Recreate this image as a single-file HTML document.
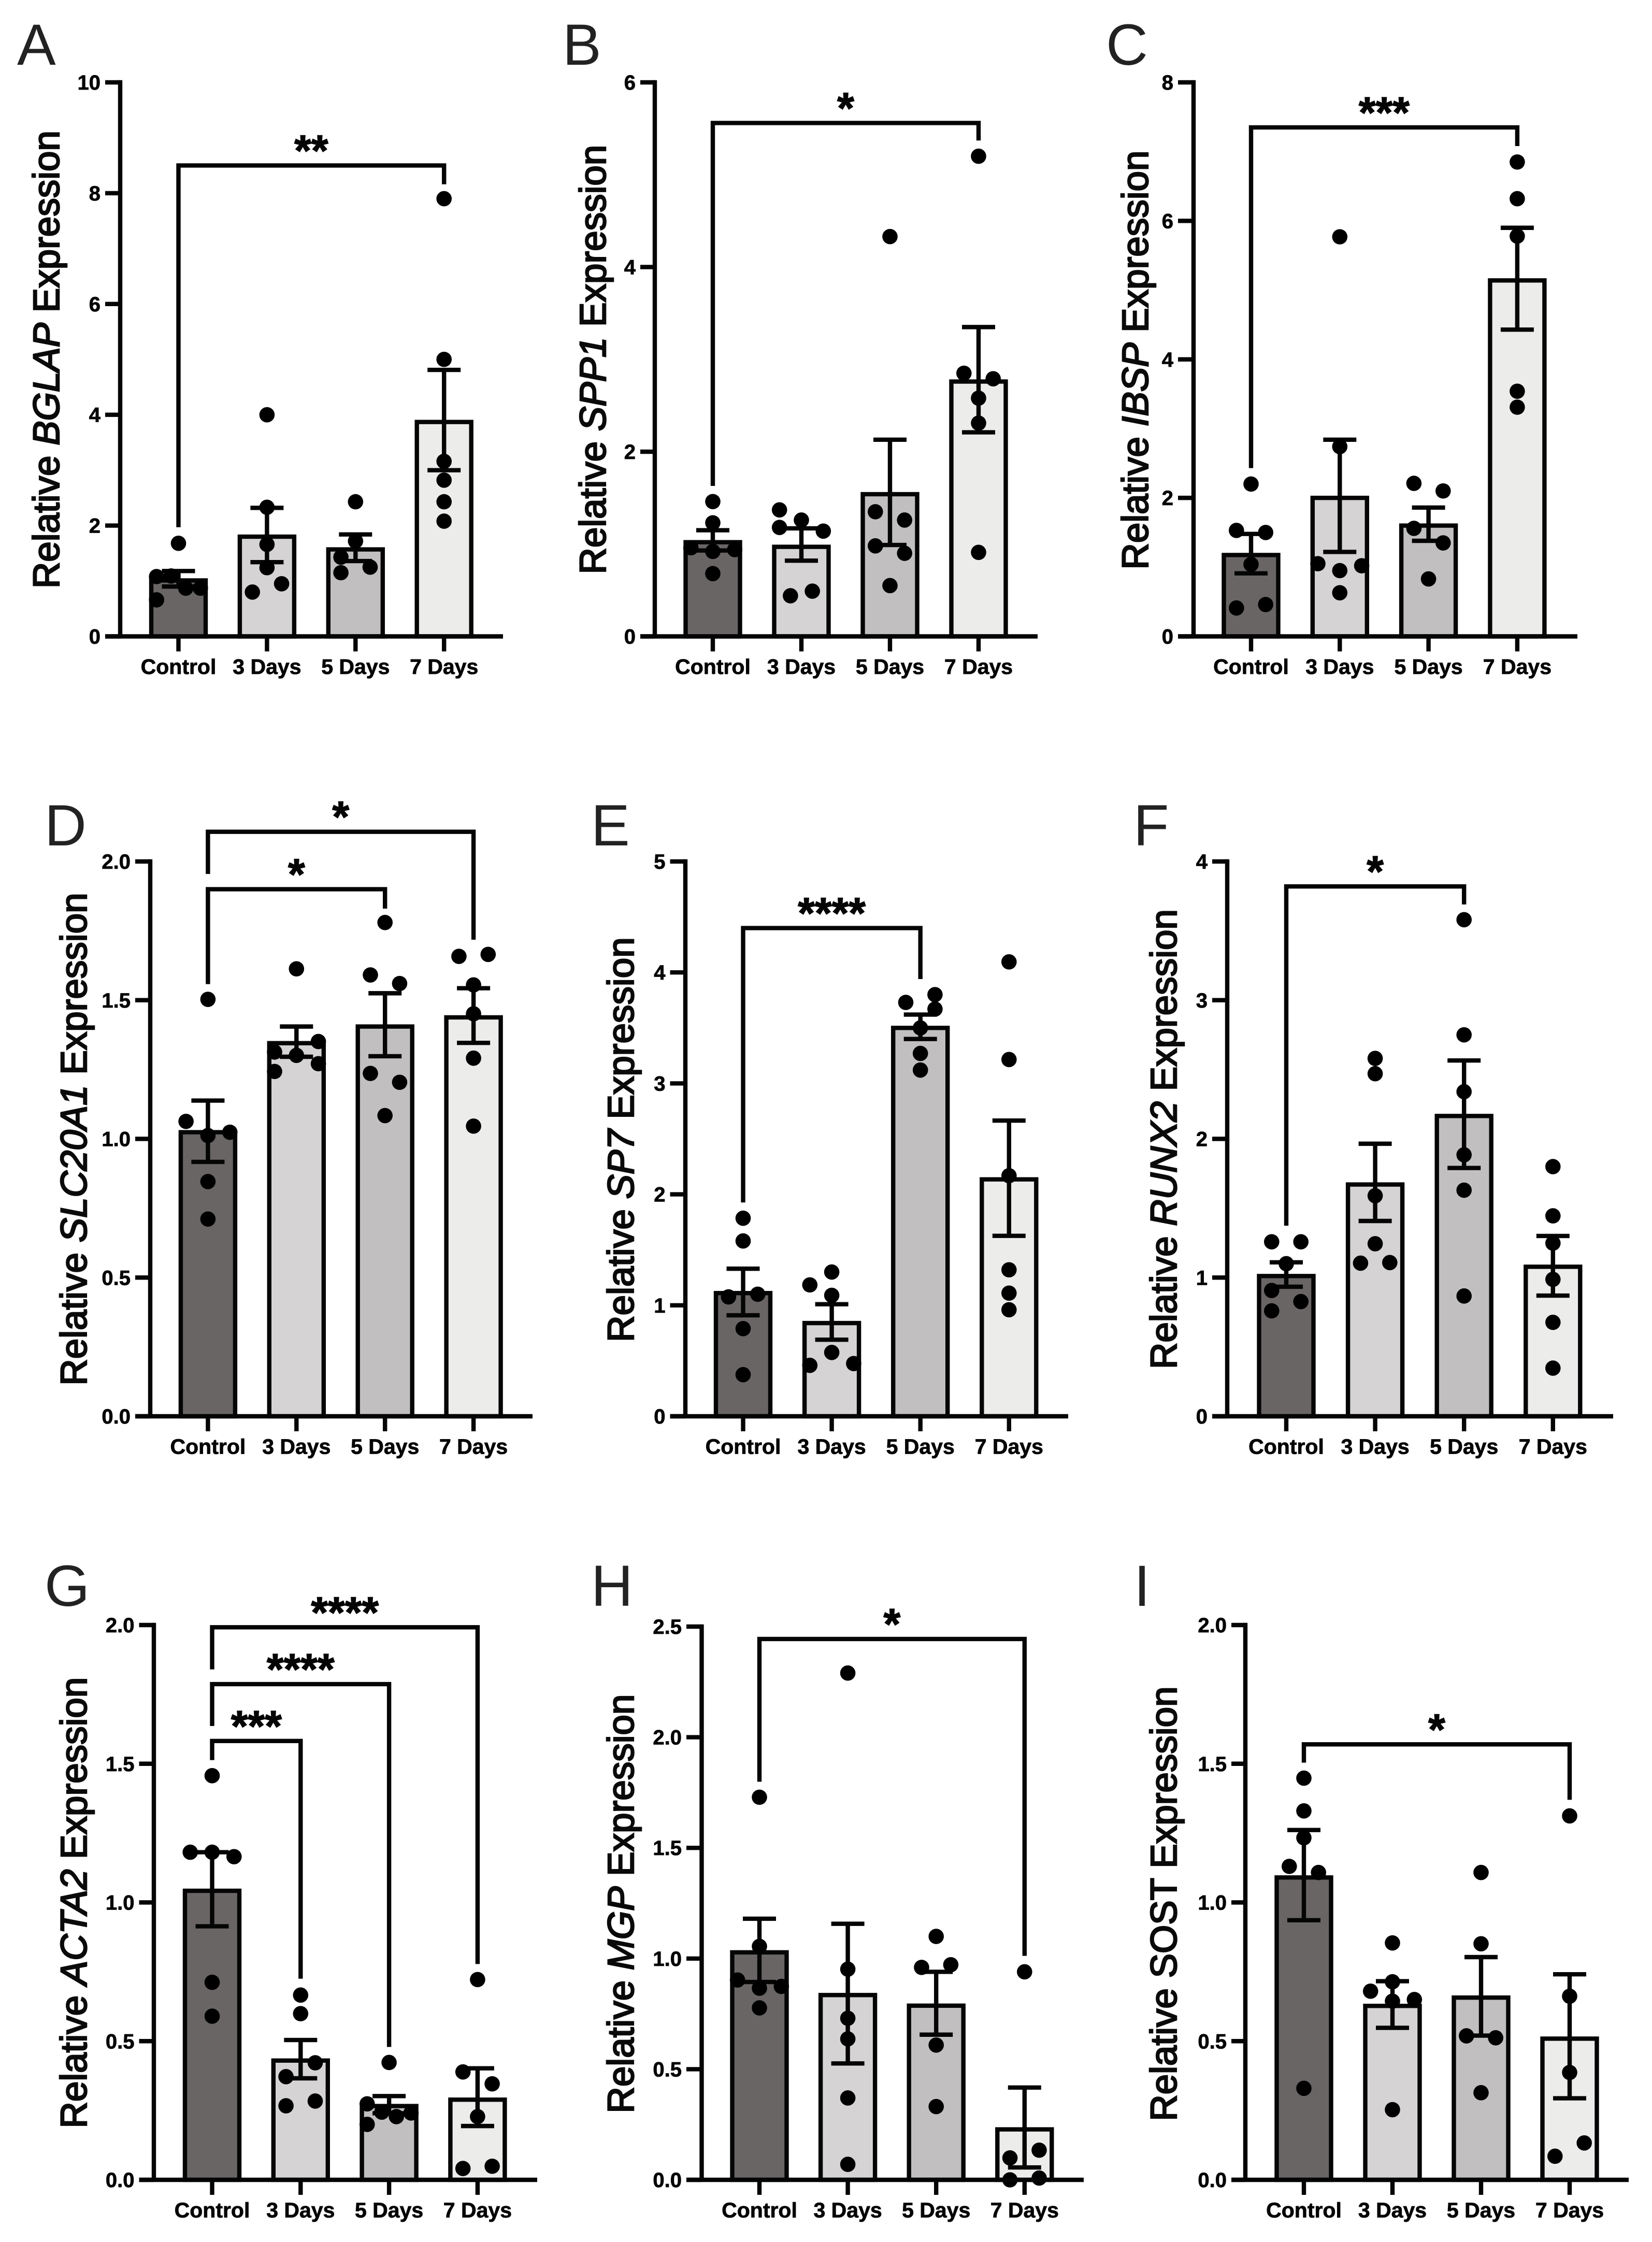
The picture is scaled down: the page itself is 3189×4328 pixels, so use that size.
<!DOCTYPE html>
<html lang="en">
<head>
<meta charset="utf-8">
<title>Relative gene expression panels</title>
<style>
html,body{margin:0;padding:0;background:#fff;}
svg{display:block;font-family:"Liberation Sans",Arial,sans-serif;}
</style>
</head>
<body>
<svg id="figure" xmlns="http://www.w3.org/2000/svg" width="3189" height="4328" viewBox="0 0 3189 4328"></svg>
<script>
const categories = ['Control', '3 Days', '5 Days', '7 Days'];

// Panel A
const aTicks = ['0', '2', '4', '6', '8', '10'];
const aMeans = [1.01, 1.80, 1.57, 3.87];
const aErrHigh = [1.18, 2.32, 1.84, 4.81];
const aErrLow = [0.90, 1.34, 1.36, 3.00];
const aPoints = [[1.68, 1.09, 1.08, 0.87, 0.87, 0.66], [4.0, 2.33, 1.66, 1.24, 0.95, 0.80], [2.43, 1.72, 1.43, 1.25, 1.15], [7.9, 5.0, 3.16, 2.82, 2.43, 2.08]];
const aSlots = [[0, -1, -3, 1, 3, -3], [0, 0, 0, 0, 2, -2], [0, 0, -2, 2, -2], [0, 0, 0, 0, 0, 0]];
const aBrackets = [{from: 0, to: 3, level: 8.5, leftEnd: 1.97, rightEnd: 8.16, stars: '**'}];

// Panel B
const bTicks = ['0', '2', '4', '6'];
const bMeans = [1.02, 0.97, 1.54, 2.76];
const bErrHigh = [1.15, 1.17, 2.13, 3.35];
const bErrLow = [0.93, 0.82, 0.99, 2.21];
const bPoints = [[1.46, 1.23, 0.96, 0.92, 0.94, 0.68], [1.37, 1.18, 1.26, 1.14, 0.49, 0.44], [4.33, 1.35, 1.26, 0.98, 0.90, 0.55], [5.2, 2.85, 2.79, 2.58, 2.31, 0.91]];
const bSlots = [[0, 0, -3, 0, 3, 0], [-3, -3, 0, 3, 1.5, -1.5], [0, -2, 2, -2, 2, 0], [0, -2, 2, 0, 0, 0]];
const bBrackets = [{from: 0, to: 3, level: 5.56, leftEnd: 1.63, rightEnd: 5.37, stars: '*'}];

// Panel C
const cTicks = ['0', '2', '4', '6', '8'];
const cMeans = [1.175, 2.0, 1.60, 5.14];
const cErrHigh = [1.48, 2.84, 1.86, 5.90];
const cErrLow = [0.91, 1.22, 1.38, 4.43];
const cPoints = [[2.2, 1.53, 1.5, 1.04, 0.46, 0.41], [5.77, 2.74, 1.05, 1.02, 0.95, 0.63], [2.21, 2.10, 1.56, 1.35, 0.83], [6.85, 6.32, 5.78, 3.54, 3.31]];
const cSlots = [[0, -2, 2, 0, 2, -2], [0, 0, -3, 3, 0, 0], [-2, 2, -2, 2, 0], [0, 0, 0, 0, 0]];
const cBrackets = [{from: 0, to: 3, level: 7.35, leftEnd: 2.43, rightEnd: 7.08, stars: '***'}];

// Panel D
const dTicks = ['0.0', '0.5', '1.0', '1.5', '2.0'];
const dMeans = [1.024, 1.345, 1.405, 1.438];
const dErrHigh = [1.138, 1.405, 1.525, 1.543];
const dErrLow = [0.917, 1.296, 1.298, 1.346];
const dPoints = [[1.503, 1.063, 1.024, 1.012, 0.846, 0.711], [1.613, 1.351, 1.313, 1.301, 1.271, 1.243], [1.78, 1.591, 1.56, 1.236, 1.204, 1.084], [1.658, 1.665, 1.555, 1.451, 1.291, 1.046]];
const dSlots = [[0, -3, 3, 0, 0, 0], [0, 3, -3, 0, 3, -3], [0, -2, 2, -2, 2, 0], [-2, 2, 0, 0, 0, 0]];
const dBrackets = [
  {from: 0, to: 3, level: 2.107, leftEnd: 1.955, rightEnd: 1.718, stars: '*'},
  {from: 0, to: 2, level: 1.90, leftEnd: 1.558, rightEnd: 1.83, stars: '*'}
];

// Panel E
const eTicks = ['0', '1', '2', '3', '4', '5'];
const eMeans = [1.11, 0.84, 3.50, 2.135];
const eErrHigh = [1.33, 1.01, 3.62, 2.665];
const eErrLow = [0.91, 0.69, 3.40, 1.626];
const ePoints = [[1.785, 1.58, 1.076, 1.10, 0.79, 0.375], [1.30, 1.184, 1.09, 0.575, 0.459, 0.475], [3.80, 3.73, 3.67, 3.50, 3.27, 3.12], [4.095, 3.215, 2.168, 1.32, 1.11, 0.96]];
const eSlots = [[0, 0, -2, 2, 0, 0], [0, -3, 0, 0, -3, 3], [2, -2, 2, 0, 0, 0], [0, 0, 0, 0, 0, 0]];
const eBrackets = [{from: 0, to: 2, level: 4.40, leftEnd: 1.927, rightEnd: 3.94, stars: '****'}];

// Panel F
const fTicks = ['0', '1', '2', '3', '4'];
const fMeans = [1.011, 1.671, 2.165, 1.078];
const fErrHigh = [1.11, 1.965, 2.565, 1.30];
const fErrLow = [0.934, 1.408, 1.79, 0.87];
const fPoints = [[1.258, 1.258, 1.10, 0.907, 0.827, 0.76], [2.58, 2.47, 1.59, 1.244, 1.104, 1.108], [3.58, 2.75, 2.34, 1.885, 1.63, 0.867], [1.80, 1.445, 1.248, 0.987, 0.677, 0.347]];
const fSlots = [[-2, 2, 0, -2, 2, -2], [0, 0, 0, 0, -2, 2], [0, 0, 0, 0, 0, 0], [0, 0, 0, 0, 0, 0]];
const fBrackets = [{from: 0, to: 2, level: 3.82, leftEnd: 1.374, rightEnd: 3.69, stars: '*'}];

// Panel G
const gTicks = ['0.0', '0.5', '1.0', '1.5', '2.0'];
const gMeans = [1.042, 0.43, 0.266, 0.289];
const gErrHigh = [1.181, 0.504, 0.302, 0.402];
const gErrLow = [0.914, 0.366, 0.24, 0.194];
const gPoints = [[1.457, 1.181, 1.181, 1.165, 0.712, 0.59], [0.666, 0.599, 0.422, 0.372, 0.284, 0.267], [0.423, 0.274, 0.244, 0.228, 0.241, 0.20], [0.722, 0.389, 0.346, 0.228, 0.049, 0.041]];
const gSlots = [[0, -3, 0, 3, 0, 0], [0, 0, 2, -2, 2, -2], [0, -3, -1, 1, 3, -3], [0, -2, 2, 0, 2, -2]];
const gBrackets = [
  {from: 0, to: 3, level: 1.992, leftEnd: 1.84, rightEnd: 0.778, stars: '****'},
  {from: 0, to: 2, level: 1.787, leftEnd: 1.636, rightEnd: 0.479, stars: '****'},
  {from: 0, to: 1, level: 1.582, leftEnd: 1.513, rightEnd: 0.725, stars: '***'}
];

// Panel H
const hTicks = ['0.0', '0.5', '1.0', '1.5', '2.0', '2.5'];
const hMeans = [1.028, 0.835, 0.787, 0.228];
const hErrHigh = [1.18, 1.157, 0.94, 0.417];
const hErrLow = [0.894, 0.526, 0.656, 0.056];
const hPoints = [[1.729, 1.055, 0.903, 0.866, 0.874, 0.777], [2.29, 0.952, 0.73, 0.637, 0.37, 0.07], [1.10, 0.96, 0.972, 0.609, 0.331], [0.94, 0.134, 0.099, 0.008, 0]];
const hSlots = [[0, 0, -3, 0, 3, 0], [0, 0, 0, 0, 0, 0], [0, -2, 2, 0, 0], [0, 2, -2, 2, -2]];
const hBrackets = [{from: 0, to: 3, level: 2.444, leftEnd: 1.799, rightEnd: 1.012, stars: '*'}];

// Panel I
const iTicks = ['0.0', '0.5', '1.0', '1.5', '2.0'];
const iMeans = [1.09, 0.627, 0.657, 0.509];
const iErrHigh = [1.261, 0.716, 0.803, 0.741];
const iErrLow = [0.936, 0.548, 0.52, 0.294];
const iPoints = [[1.448, 1.33, 1.233, 1.13, 1.108, 0.33], [0.854, 0.714, 0.68, 0.644, 0.65, 0.253], [1.108, 0.851, 0.519, 0.512, 0.314], [1.312, 0.662, 0.387, 0.133, 0.085]];
const iSlots = [[0, 0, 0, -2, 2, 0], [0, 0, -3, 0, 3, 0], [0, 0, -2, 2, 0], [0, 0, 0, 2, -2]];
const iBrackets = [{from: 0, to: 3, level: 1.57, leftEnd: 1.504, rightEnd: 1.37, stars: '*'}];

const barFills = ['#696565', '#d5d3d4', '#c1bfc0', '#ecedeb'];
const INK = '#050505';
const STROKE = 8.4;
const SVGNS = 'http://www.w3.org/2000/svg';
const figure = document.getElementById('figure');

function make(parent, tag, props, text) {
  const node = document.createElementNS(SVGNS, tag);
  for (const key in props) node.setAttribute(key, props[key]);
  if (text !== undefined) node.textContent = text;
  parent.appendChild(node);
  return node;
}

function drawPanel(p) {
  const group = make(figure, 'g', {});
  
  

  const yMax = parseFloat(p.ticks[p.ticks.length - 1]);
  const yScale = v => p.y0 + (p.yTop - p.y0) * (v / yMax);
  const xScale = i => p.x0 + i * p.step;

  const letter = make(group, 'text', {x: p.letterX, y: p.letterY, 'font-size': 112, fill: '#222'}, p.letter);
  
  

  const title = make(group, 'text', {
    transform: 'translate(' + p.titleX + ',' + p.titleY + ') rotate(-90)',
    'text-anchor': 'middle', 'font-size': 71, fill: '#0a0a0a', stroke: '#0a0a0a', 'stroke-width': 2.6
  });
  
  
  make(title, 'tspan', {}, 'Relative ');
  make(title, 'tspan', {'font-style': p.italic ? 'italic' : 'normal'}, p.gene);
  make(title, 'tspan', {}, ' Expression');

  categories.forEach((name, i) => {
    const bar = make(group, 'rect', {
      x: xScale(i) - 52.5, y: yScale(p.means[i]), width: 105, height: p.y0 - yScale(p.means[i]),
      fill: barFills[i], stroke: INK, 'stroke-width': STROKE
    });
    
    
  });

  categories.forEach((name, i) => {
    const cx = xScale(i);
    const err = make(group, 'path', {
      d: 'M' + cx + ' ' + yScale(p.errHigh[i]) + 'V' + yScale(p.errLow[i]) +
         'M' + (cx - 32) + ' ' + yScale(p.errHigh[i]) + 'H' + (cx + 32) +
         'M' + (cx - 32) + ' ' + yScale(p.errLow[i]) + 'H' + (cx + 32),
      fill: 'none', stroke: INK, 'stroke-width': STROKE
    });
    
    

    p.points[i].forEach((value, j) => {
      const dot = make(group, 'circle', {cx: cx + p.slots[i][j] * 14.1, cy: yScale(value), r: 14.8, fill: '#000'});
      
      
    });
  });

  const yAxis = make(group, 'path', {
    d: 'M' + p.axisX + ' ' + (p.yTop - STROKE / 2) + 'V' + p.y0,
    stroke: INK, 'stroke-width': STROKE, fill: 'none'
  });
  
  

  const xAxis = make(group, 'path', {
    d: 'M' + p.tickLeft + ' ' + p.y0 + 'H' + p.axisEnd,
    stroke: INK, 'stroke-width': STROKE, fill: 'none'
  });
  
  

  p.ticks.forEach(label => {
    const ty = yScale(parseFloat(label));
    const tick = make(group, 'path', {d: 'M' + p.tickLeft + ' ' + ty + 'H' + p.axisX, stroke: INK, 'stroke-width': STROKE});
    
    
    const txt = make(group, 'text', {x: p.tickLeft - 9, y: ty + 14, 'text-anchor': 'end', 'font-size': 40, 'font-weight': 700, fill: '#050505', stroke: '#050505', 'stroke-width': 0.8}, label);
    
    
  });

  categories.forEach((name, i) => {
    const cx = xScale(i);
    const tick = make(group, 'path', {d: 'M' + cx + ' ' + p.y0 + 'V' + (p.y0 + 29), stroke: INK, 'stroke-width': STROKE});
    
    
    const txt = make(group, 'text', {x: cx, y: p.y0 + 72.5, 'text-anchor': 'middle', 'font-size': 41, 'font-weight': 700, fill: '#050505', stroke: '#050505', 'stroke-width': 0.8}, name);
    
    
  });

  p.brackets.forEach(b => {
    const left = xScale(b.from);
    const right = xScale(b.to);
    const top = yScale(b.level);
    const line = make(group, 'path', {
      d: 'M' + left + ' ' + yScale(b.leftEnd) + 'V' + top + 'H' + right + 'V' + yScale(b.rightEnd),
      fill: 'none', stroke: INK, 'stroke-width': STROKE
    });
    
    
    const stars = make(group, 'text', {x: (left + right) / 2, y: top, 'text-anchor': 'middle', 'font-size': 84, 'font-weight': 700, fill: '#050505', stroke: '#050505', 'stroke-width': 1.5}, b.stars);
    
    
  });
}

drawPanel({letter: 'A', gene: 'BGLAP', italic: true, ticks: aTicks, means: aMeans, errHigh: aErrHigh, errLow: aErrLow, points: aPoints, slots: aSlots, brackets: aBrackets,
  axisX: 232, tickLeft: 203, axisEnd: 971, x0: 344.5, step: 170.9, y0: 1228.5, yTop: 159, titleX: 114, titleY: 694, letterX: 33, letterY: 125});
drawPanel({letter: 'B', gene: 'SPP1', italic: true, ticks: bTicks, means: bMeans, errHigh: bErrHigh, errLow: bErrLow, points: bPoints, slots: bSlots, brackets: bBrackets,
  axisX: 1264, tickLeft: 1236, axisEnd: 2003, x0: 1376, step: 171, y0: 1228.5, yTop: 159, titleX: 1169, titleY: 694, letterX: 1086, letterY: 125});
drawPanel({letter: 'C', gene: 'IBSP', italic: true, ticks: cTicks, means: cMeans, errHigh: cErrHigh, errLow: cErrLow, points: cPoints, slots: cSlots, brackets: cBrackets,
  axisX: 2304, tickLeft: 2274, axisEnd: 3045, x0: 2415, step: 171.3, y0: 1228.5, yTop: 159, titleX: 2216, titleY: 695, letterX: 2135, letterY: 125});
drawPanel({letter: 'D', gene: 'SLC20A1', italic: true, ticks: dTicks, means: dMeans, errHigh: dErrHigh, errLow: dErrLow, points: dPoints, slots: dSlots, brackets: dBrackets,
  axisX: 290, tickLeft: 261, axisEnd: 1028, x0: 401.4, step: 170.9, y0: 2734, yTop: 1663, titleX: 167, titleY: 2199, letterX: 86, letterY: 1632});
drawPanel({letter: 'E', gene: 'SP7', italic: true, ticks: eTicks, means: eMeans, errHigh: eErrHigh, errLow: eErrLow, points: ePoints, slots: eSlots, brackets: eBrackets,
  axisX: 1323, tickLeft: 1293.5, axisEnd: 2062, x0: 1434.5, step: 171.1, y0: 2734, yTop: 1663, titleX: 1223, titleY: 2200, letterX: 1141, letterY: 1632});
drawPanel({letter: 'F', gene: 'RUNX2', italic: true, ticks: fTicks, means: fMeans, errHigh: fErrHigh, errLow: fErrLow, points: fPoints, slots: fSlots, brackets: fBrackets,
  axisX: 2369, tickLeft: 2340, axisEnd: 3114, x0: 2483, step: 171.6, y0: 2734, yTop: 1663, titleX: 2271, titleY: 2199, letterX: 2188, letterY: 1632});
drawPanel({letter: 'G', gene: 'ACTA2', italic: true, ticks: gTicks, means: gMeans, errHigh: gErrHigh, errLow: gErrLow, points: gPoints, slots: gSlots, brackets: gBrackets,
  axisX: 297, tickLeft: 268.5, axisEnd: 1037, x0: 409.5, step: 170.8, y0: 4208, yTop: 3137, titleX: 167, titleY: 3673, letterX: 86, letterY: 3100});
drawPanel({letter: 'H', gene: 'MGP', italic: true, ticks: hTicks, means: hMeans, errHigh: hErrHigh, errLow: hErrLow, points: hPoints, slots: hSlots, brackets: hBrackets,
  axisX: 1354.5, tickLeft: 1325, axisEnd: 2092, x0: 1466, step: 170.6, y0: 4208, yTop: 3140, titleX: 1223, titleY: 3675, letterX: 1141, letterY: 3100});
drawPanel({letter: 'I', gene: 'SOST', italic: false, ticks: iTicks, means: iMeans, errHigh: iErrHigh, errLow: iErrLow, points: iPoints, slots: iSlots, brackets: iBrackets,
  axisX: 2404, tickLeft: 2377, axisEnd: 3144, x0: 2517, step: 171, y0: 4208, yTop: 3137, titleX: 2271, titleY: 3675, letterX: 2189, letterY: 3100});
</script>
</body>
</html>
